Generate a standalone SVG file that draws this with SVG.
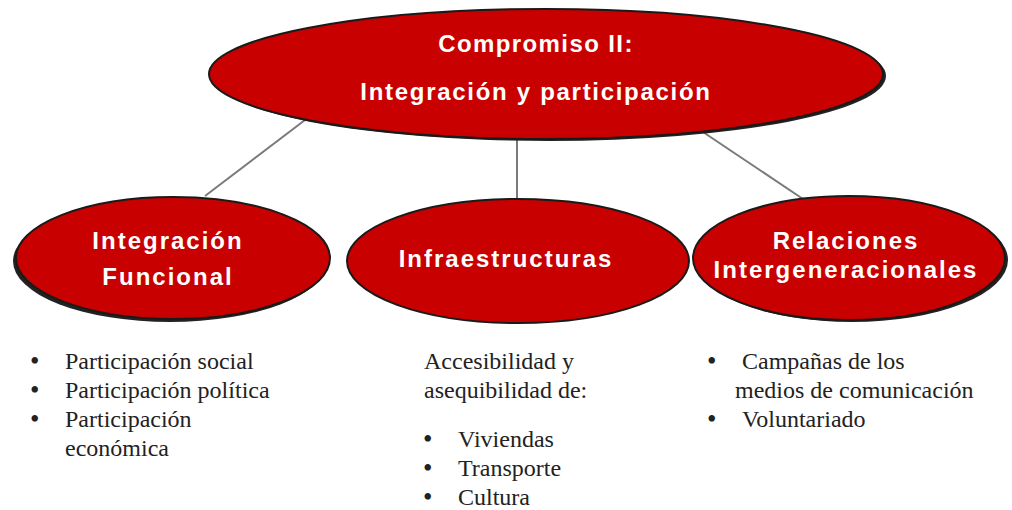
<svg xmlns="http://www.w3.org/2000/svg" width="1012" height="510" viewBox="0 0 1012 510">
<style>
.ell{fill:#c80000;stroke:#1a1a1a;stroke-width:2}
.sh{fill:#222}
.t{font-family:"Liberation Sans",Arial,sans-serif;font-weight:bold;fill:#fff;text-anchor:middle;font-size:24px;letter-spacing:2px}
.tt{letter-spacing:1.4px}
.b{font-family:"Liberation Serif","Times New Roman",serif;font-size:24px;fill:#222}
.d{font-size:27px}
.con{stroke:#7a7a7a;stroke-width:2;fill:none}
</style>
<rect width="1012" height="510" fill="#fff"/>
<g id="connectors">
<line class="con" x1="305" y1="120" x2="205" y2="196"/>
<line class="con" x1="517" y1="138" x2="517" y2="199"/>
<line class="con" x1="700" y1="130" x2="803" y2="199"/>
</g>
<g id="top">
<ellipse class="sh" cx="549" cy="76" rx="337" ry="65"/>
<ellipse class="ell" cx="546" cy="74" rx="337" ry="65"/>
<text class="t tt" x="536" y="52">Compromiso II:</text>
<text class="t tt" x="536" y="100" style="letter-spacing:1.7px">Integración y participación</text>
</g>
<g id="n1">
<ellipse class="sh" cx="170" cy="261" rx="157" ry="61"/>
<ellipse class="ell" cx="173" cy="258" rx="157" ry="61"/>
<text class="t" x="168" y="249">Integración</text>
<text class="t" x="168" y="285">Funcional</text>
</g>
<g id="n2">
<ellipse class="ell" cx="518" cy="261" rx="171" ry="62"/>
<text class="t" x="506" y="267">Infraestructuras</text>
</g>
<g id="n3">
<ellipse class="sh" cx="852" cy="260" rx="156" ry="62"/>
<ellipse class="ell" cx="849" cy="258" rx="156" ry="62"/>
<text class="t" x="846" y="249">Relaciones</text>
<text class="t" x="846" y="278">Intergeneracionales</text>
</g>
<g id="list1" class="b">
<text class="d" x="30" y="370">•</text><text x="65" y="369">Participación social</text>
<text class="d" x="30" y="399">•</text><text x="65" y="398">Participación política</text>
<text class="d" x="30" y="428">•</text><text x="65" y="427">Participación</text>
<text x="65" y="456">económica</text>
</g>
<g id="list2" class="b">
<text x="424" y="369">Accesibilidad y</text>
<text x="424" y="398">asequibilidad de:</text>
<text class="d" x="423" y="448">•</text><text x="458" y="447">Viviendas</text>
<text class="d" x="423" y="477">•</text><text x="458" y="476">Transporte</text>
<text class="d" x="423" y="506">•</text><text x="458" y="505">Cultura</text>
</g>
<g id="list3" class="b">
<text class="d" x="707" y="370">•</text><text x="742" y="369">Campañas de los</text>
<text x="735" y="398">medios de comunicación</text>
<text class="d" x="707" y="428">•</text><text x="742" y="427">Voluntariado</text>
</g>
</svg>
